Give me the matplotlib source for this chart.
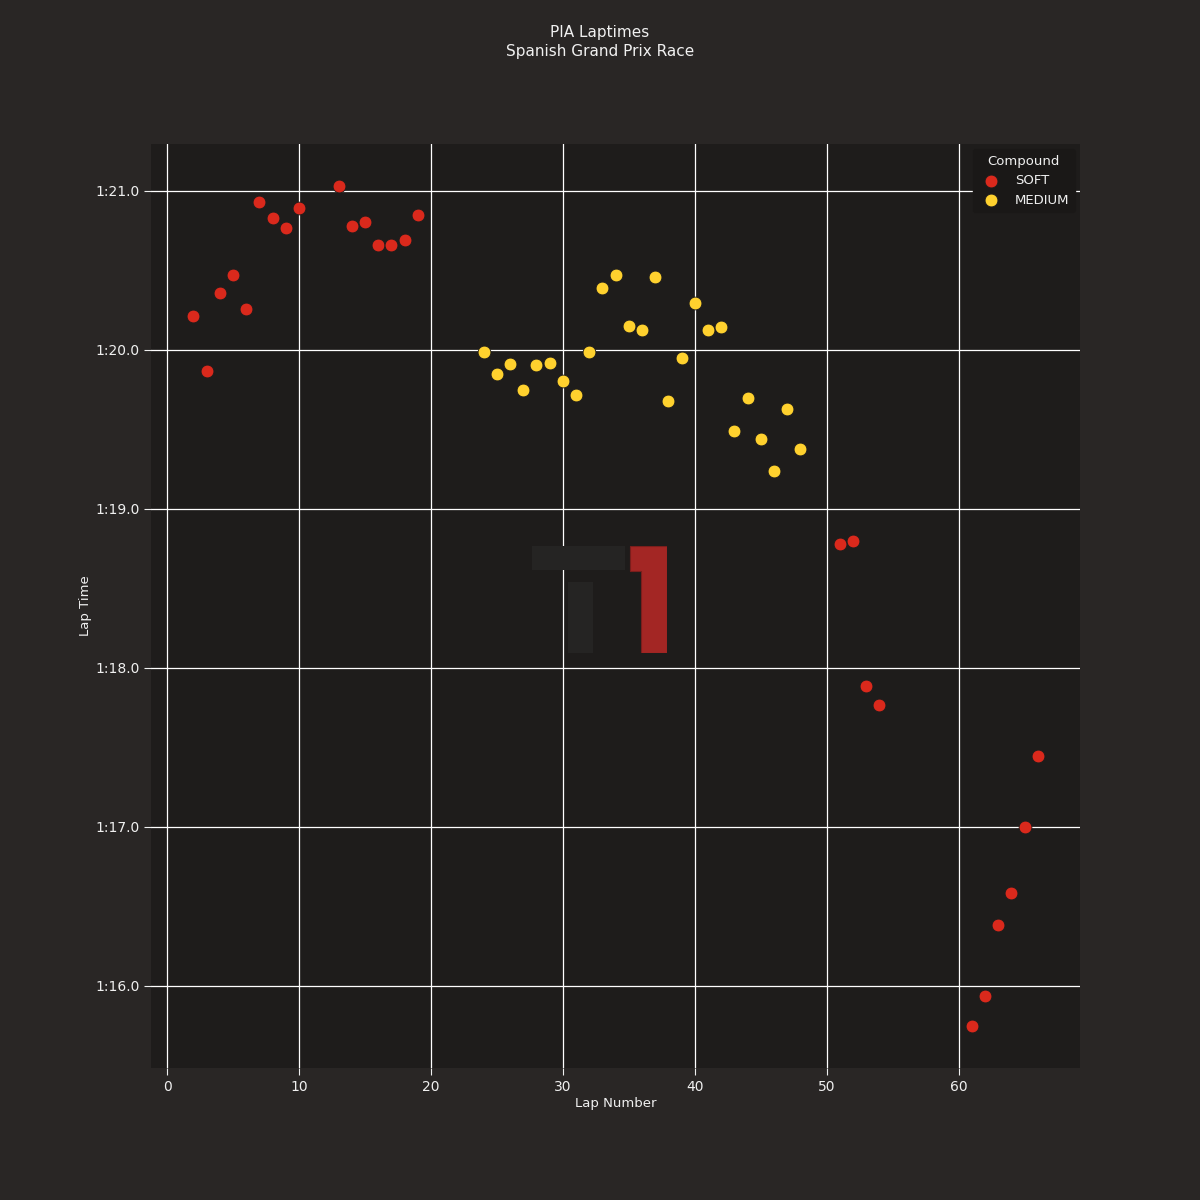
import numpy as np
import matplotlib
matplotlib.use("Agg")
import matplotlib.pyplot as plt
from matplotlib.ticker import FuncFormatter
from matplotlib.patches import Polygon

# ============================================================
# Data (lap number, lap time in seconds)
# ============================================================
soft_laps = [2, 3, 4, 5, 6, 7, 8, 9, 10, 13, 14, 15, 16, 17, 18, 19,
             51, 52, 53, 54, 61, 62, 63, 64, 65, 66]
soft_times = [80.214, 79.868, 80.358, 80.472, 80.258, 80.931, 80.830, 80.767,
              80.893, 81.031, 80.780, 80.805, 80.660, 80.660, 80.692, 80.849,
              78.780, 78.799, 77.887, 77.767, 75.748, 75.937, 76.384, 76.585,
              77.000, 77.447]

medium_laps = list(range(24, 49))
medium_times = [79.987, 79.849, 79.912, 79.748, 79.906, 79.918, 79.805, 79.717,
                79.987, 80.390, 80.472, 80.151, 80.126, 80.459, 79.679, 79.950,
                80.296, 80.126, 80.145, 79.491, 79.698, 79.440, 79.239, 79.629,
                79.377]

compounds = ["SOFT", "MEDIUM"]
compound_colors = {"SOFT": "#da291c", "MEDIUM": "#ffd12e"}

FIG_BG = "#292625"
AX_BG = "#1e1c1b"
TXT = "#f0f0f0"


def fmt_laptime(v, pos):
    m = int(v // 60)
    s = v - 60 * m
    return f"{m}:{s:04.1f}"


# ============================================================
# Plot
# ============================================================
fig = plt.figure(figsize=(12, 12), dpi=100, facecolor=FIG_BG)
ax = fig.add_axes([0.126, 0.11, 0.774, 0.77], facecolor=AX_BG)

series = {
    "SOFT": (soft_laps, soft_times),
    "MEDIUM": (medium_laps, medium_times),
}
for name in compounds:
    x, y = series[name]
    ax.scatter(x, y, s=85, color=compound_colors[name], edgecolor="#1e1c1b",
               linewidth=0.6, label=name, zorder=3)

ax.yaxis.set_major_formatter(FuncFormatter(fmt_laptime))
ax.set_yticks([76, 77, 78, 79, 80, 81])
ax.grid(True, color="white", lw=0.9, zorder=1)
ax.set_axisbelow(True)
for sp in ax.spines.values():
    sp.set_visible(False)
ax.tick_params(colors=TXT, labelsize=10, length=5)

ax.set_xlabel("Lap Number", color=TXT, fontsize=9.5, labelpad=2)
ax.set_ylabel("Lap Time", color=TXT, fontsize=9.5, labelpad=2)

fig.suptitle("PIA Laptimes\nSpanish Grand Prix Race", color=TXT,
             fontsize=11, y=0.979, linespacing=1.35)

leg = ax.legend(title="Compound", loc="upper right", facecolor="#1a1817",
                edgecolor="#1a1817", fontsize=9.5, title_fontsize=9.5,
                framealpha=1.0, borderaxespad=0.4)
for t in leg.get_texts():
    t.set_color(TXT)
leg.get_title().set_color(TXT)

# faint F1 watermark
lax = fig.add_axes([0.443, 0.456, 0.113, 0.089])
lax.set_xlim(0, 135)
lax.set_ylim(0, 107)
lax.axis("off")
lax.patch.set_alpha(0)
grey = "#252423"
lax.add_patch(Polygon([[0, 83], [93, 83], [93, 107], [0, 107]],
                      closed=True, color=grey, lw=0))
lax.add_patch(Polygon([[36, 0], [61, 0], [61, 71], [36, 71]],
                      closed=True, color=grey, lw=0))
lax.add_patch(Polygon([[98, 107], [135, 107], [135, 0], [109, 0], [109, 82],
                       [98, 82]], closed=True, facecolor="#a32624",
                      edgecolor="#7a1e1c", lw=0.8))
ax.set_zorder(0.4)
lax.set_zorder(0.5)

plt.savefig("out.png", dpi=100, facecolor=FIG_BG)
plt.close()
